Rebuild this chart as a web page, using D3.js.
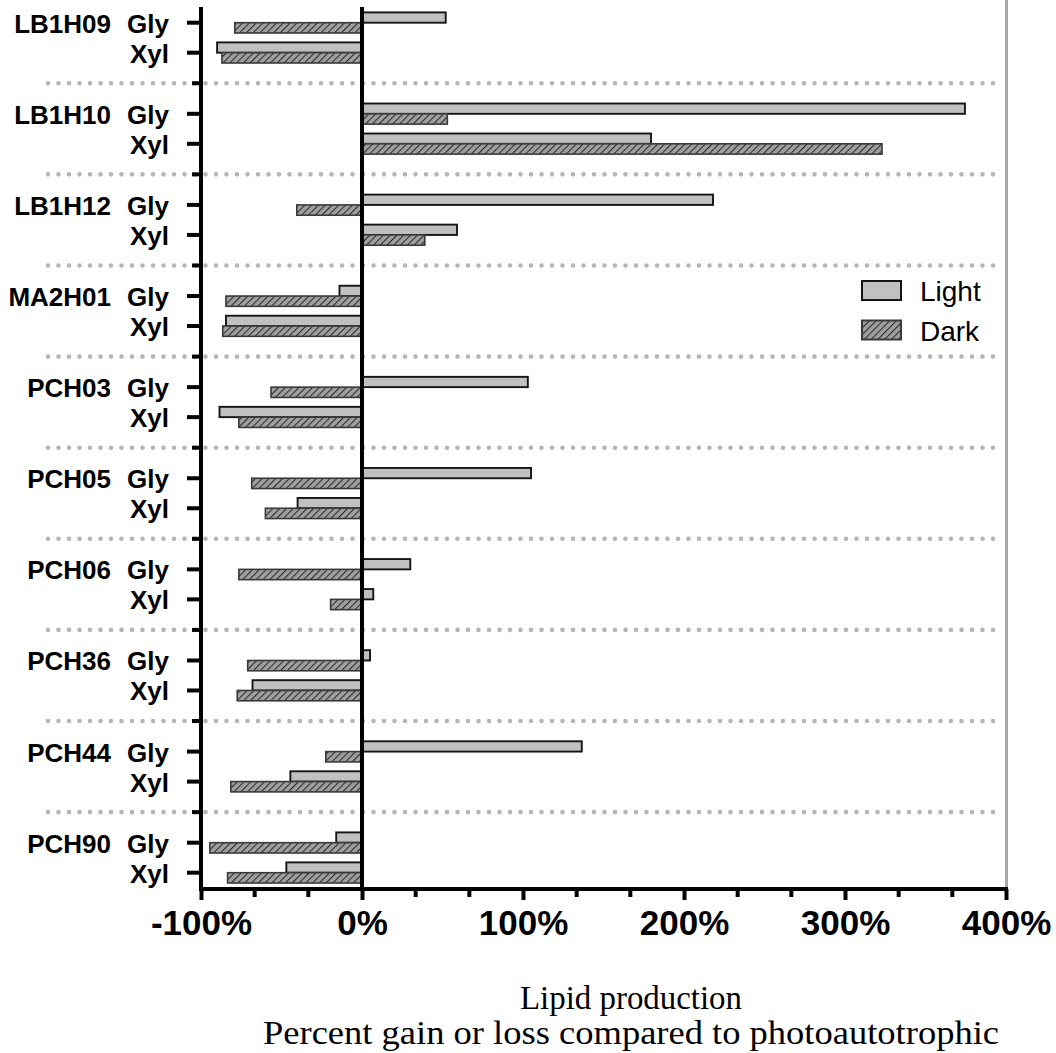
<!DOCTYPE html>
<html><head><meta charset="utf-8">
<script src="https://cdn.jsdelivr.net/npm/d3@7"></script>
<style>html,body{margin:0;padding:0;background:#fff;}svg{display:block;}</style>
</head><body>
<svg id="chart" width="1056" height="1053"></svg>
<script>
const strains = ['LB1H09','LB1H10','LB1H12','MA2H01','PCH03','PCH05','PCH06','PCH36','PCH44','PCH90'];
const substrates = ['Gly','Xyl'];
const series = ['Light','Dark'];
const lightGly = [52, 374.5, 218, -14, 103, 105, 30, 5, 136.5, -16];
const darkGly  = [-79, 53, -40.5, -84.5, -56.5, -68.5, -76.5, -71, -22.5, -94.5];
const lightXyl = [-90, 179.5, 59, -84.5, -88.5, -40, 7, -68, -44.5, -47];
const darkXyl  = [-87, 323, 39, -86.5, -76.5, -60, -19.5, -77.5, -81.5, -83.5];
const xTicks = [-100, 0, 100, 200, 300, 400];
const xTickLabels = ['-100%','0%','100%','200%','300%','400%'];
const titleLines = ['Lipid production','Percent gain or loss compared to photoautotrophic'];

const svg = d3.select('#chart');
const defs = svg.append('defs');
const pat = defs.append('pattern').attr('id','hatch').attr('patternUnits','userSpaceOnUse')
  .attr('width',4.8).attr('height',4.8).attr('patternTransform','rotate(45)');
pat.append('rect').attr('width',4.8).attr('height',4.8).attr('fill','#a0a0a0');
pat.append('line').attr('x1',0).attr('y1',0).attr('x2',0).attr('y2',4.8)
  .attr('stroke','#2e2e2e').attr('stroke-width',2.2);

const x = d3.scaleLinear().domain([-100, 400]).range([201, 1006]);
const gy = d3.scalePoint().domain(strains).range([22.7, 842.7]);
const sy = d3.scalePoint().domain(substrates).range([0, 30]);
const barH = 10.3;
const axisTop = 7, axisBottom = 889;

const rows = [];
strains.forEach((s,i)=>{
  rows.push({strain:s, sub:'Gly', light:lightGly[i], dark:darkGly[i]});
  rows.push({strain:s, sub:'Xyl', light:lightXyl[i], dark:darkXyl[i]});
});
const yOf = d => gy(d.strain) + sy(d.sub);

// separators
const step = gy.step();
const seps = strains.slice(0,-1).map(s => gy(s) + 30 + (step - 30)/2);
svg.append('g').selectAll('line').data(seps).join('line')
  .attr('x1',48).attr('x2',1000).attr('y1',d=>d).attr('y2',d=>d)
  .attr('stroke','#b5b5b5').attr('stroke-width',4.6).attr('stroke-linecap','round')
  .attr('stroke-dasharray','0 10.5');

// right grey line
svg.append('line').attr('x1',x(400)+0.5).attr('x2',x(400)+0.5).attr('y1',0).attr('y2',axisBottom)
  .attr('stroke','#a8a8a8').attr('stroke-width',3);

// bars
const bars = svg.append('g');
bars.selectAll('rect.light').data(rows).join('rect').attr('class','light')
  .attr('x',d=>Math.min(x(0),x(d.light))).attr('width',d=>Math.abs(x(d.light)-x(0)))
  .attr('y',d=>yOf(d)-barH).attr('height',barH)
  .attr('fill','#c0c0c0').attr('stroke','#151515').attr('stroke-width',1.9);
bars.selectAll('rect.dark').data(rows).join('rect').attr('class','dark')
  .attr('x',d=>Math.min(x(0),x(d.dark))).attr('width',d=>Math.abs(x(d.dark)-x(0)))
  .attr('y',d=>yOf(d)).attr('height',barH)
  .attr('fill','url(#hatch)').attr('stroke','#3a3a3a').attr('stroke-width',1.6);

// zero line
svg.append('line').attr('x1',x(0)).attr('x2',x(0)).attr('y1',axisTop).attr('y2',axisBottom)
  .attr('stroke','#000').attr('stroke-width',4);

// left axis
svg.append('line').attr('x1',x(-100)).attr('x2',x(-100)).attr('y1',axisTop).attr('y2',axisBottom+2)
  .attr('stroke','#000').attr('stroke-width',4);
svg.append('g').selectAll('line').data(rows).join('line')
  .attr('x1',x(-100)-14).attr('x2',x(-100)).attr('y1',d=>yOf(d)).attr('y2',d=>yOf(d))
  .attr('stroke','#000').attr('stroke-width',4);
svg.append('g').selectAll('line').data(seps).join('line')
  .attr('x1',x(-100)-9).attr('x2',x(-100)).attr('y1',d=>d).attr('y2',d=>d)
  .attr('stroke','#000').attr('stroke-width',4);

// y labels
const lab = svg.append('g').attr('font-family','"Liberation Sans", Arial, sans-serif')
  .attr('font-weight','bold').attr('font-size',26).attr('fill','#000');
lab.selectAll('text.sub').data(rows).join('text').attr('class','sub')
  .attr('x',169).attr('y',d=>yOf(d)+1).attr('text-anchor','end').attr('dominant-baseline','central')
  .text(d=>d.sub);
lab.selectAll('text.strain').data(strains).join('text').attr('class','strain')
  .attr('x',111).attr('y',d=>gy(d)+1).attr('text-anchor','end').attr('dominant-baseline','central')
  .text(d=>d);

// bottom axis
const xAxis = d3.axisBottom(x).tickValues(xTicks).tickSize(11).tickFormat((d,i)=>xTickLabels[i]);
const gx = svg.append('g').attr('transform',`translate(0,${axisBottom})`).call(xAxis);
gx.select('.domain').attr('stroke','#000').attr('stroke-width',4).attr('d',`M${x(-100)-2},0H${x(400)+2}`);
gx.selectAll('.tick line').attr('stroke','#000').attr('stroke-width',4);
gx.selectAll('.tick text').attr('font-family','"Liberation Sans", Arial, sans-serif')
  .attr('font-weight','bold').attr('font-size',35).attr('fill','#000').attr('dy',0).attr('y',46);
const minor = d3.range(-100, 400, 100/3).filter((d,i)=>i%3!==0);
svg.append('g').selectAll('line').data(minor).join('line')
  .attr('x1',d=>x(d)).attr('x2',d=>x(d)).attr('y1',axisBottom).attr('y2',axisBottom+8)
  .attr('stroke','#000').attr('stroke-width',4);

// title
const titleWidths = [222, 736];
svg.append('g').selectAll('text').data(titleLines).join('text')
  .attr('x',631).attr('y',(d,i)=>1009+i*35).attr('text-anchor','middle')
  .attr('font-family','"Liberation Serif", "Times New Roman", serif').attr('font-size',33).attr('fill','#000')
  .attr('textLength',(d,i)=>titleWidths[i]).attr('lengthAdjust','spacingAndGlyphs')
  .text(d=>d);

// legend
const lg = svg.append('g').selectAll('g').data(series).join('g')
  .attr('transform',(d,i)=>`translate(862,${281+i*39.5})`);
lg.append('rect').attr('width',39).attr('height',19)
  .attr('fill',d=>d==='Light'?'#c0c0c0':'url(#hatch)')
  .attr('stroke',d=>d==='Light'?'#151515':'#3a3a3a').attr('stroke-width',2);
lg.append('text').attr('x',58).attr('y',10.5).attr('dominant-baseline','central')
  .attr('font-family','"Liberation Sans", Arial, sans-serif').attr('font-size',28).attr('fill','#000')
  .text(d=>d);
</script>
</body></html>
